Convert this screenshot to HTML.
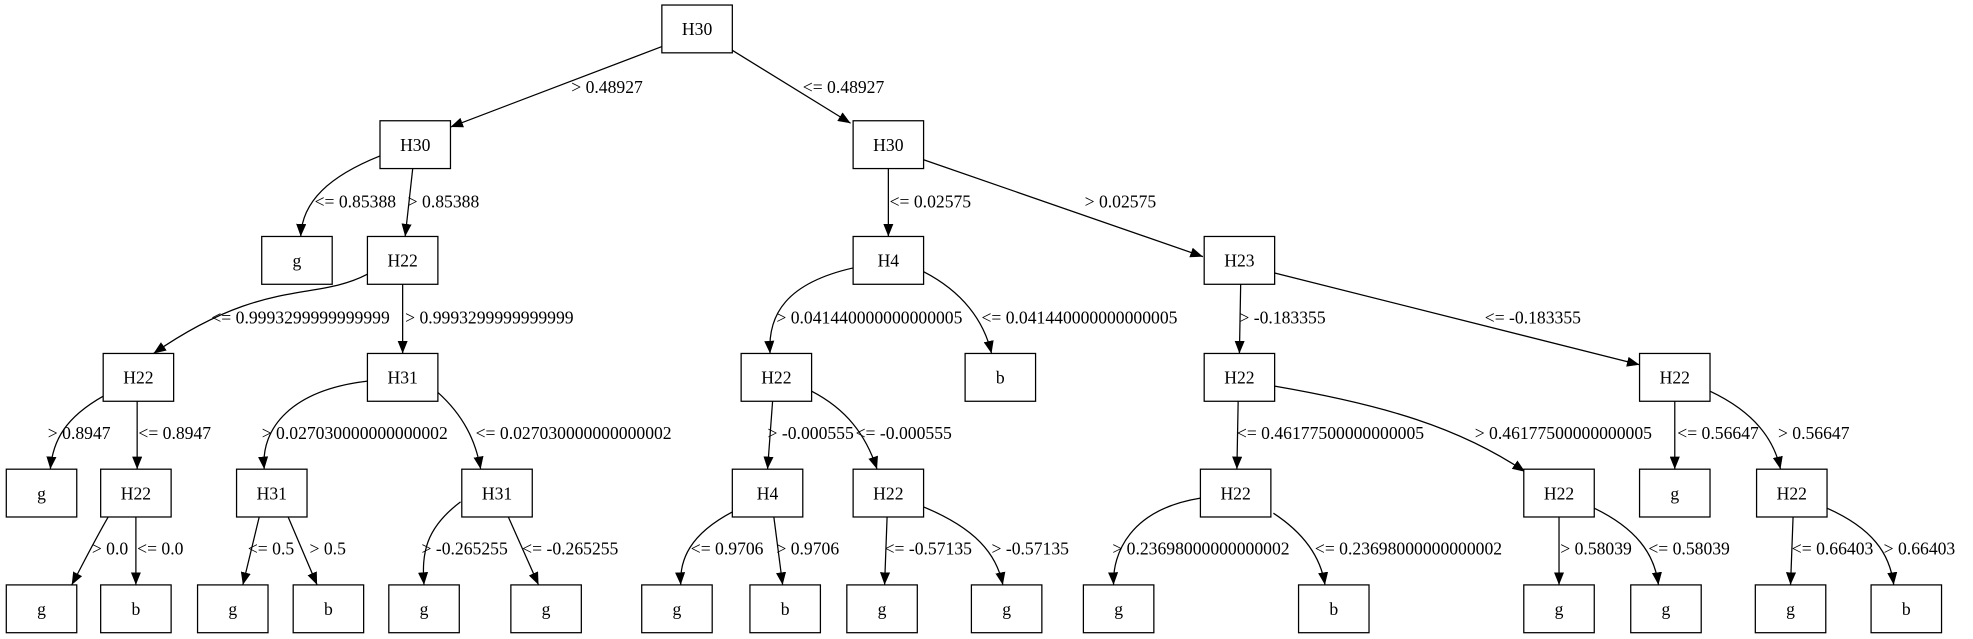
<!DOCTYPE html>
<html><head><meta charset="utf-8"><style>
html,body{margin:0;padding:0;background:#fff;}
svg{display:block;}
text{font-family:"Liberation Serif",serif;font-size:14px;fill:#000;}
</style></head><body>
<svg width="1973" height="639" viewBox="0 0 1568 508" preserveAspectRatio="none" xmlns="http://www.w3.org/2000/svg">
<defs><marker id="a" markerWidth="10" markerHeight="8" refX="10" refY="4" orient="auto" markerUnits="userSpaceOnUse"><path d="M0,0 L10,4 L0,8 z" fill="#000"/></marker></defs>
<g fill="none" stroke="#000" stroke-width="1" marker-end="url(#a)">
<path d="M526,37 L358,101"/>
<path d="M582,40 L676,98"/>
<path d="M302,124 C262,140 240,160 239,188"/>
<path d="M328,134 L322,188"/>
<path d="M706,134 L706,188"/>
<path d="M734,127 L956,204"/>
<path d="M292,218 C250,240 210,220 122,281"/>
<path d="M320,226 L320,281"/>
<path d="M678,213 C625,225 610,250 612,281"/>
<path d="M734,216 C765,232 782,255 788,281"/>
<path d="M986,226 L985,281"/>
<path d="M1013,217 L1303,290"/>
<path d="M82,315 C52,332 42,350 40,373"/>
<path d="M109,319 L109,373"/>
<path d="M292,303 C232,310 207,340 210,373"/>
<path d="M348,312 C368,330 378,350 382,373"/>
<path d="M614,319 L610,373"/>
<path d="M645,311 C672,325 688,345 697,373"/>
<path d="M984,319 L983,373"/>
<path d="M1013,307 C1100,322 1160,340 1212,375"/>
<path d="M1331,319 L1331,373"/>
<path d="M1359,311 C1395,328 1410,350 1415,373"/>
<path d="M86,411 C75,430 65,450 57,465"/>
<path d="M108,411 L108,465"/>
<path d="M206,411 L193,465"/>
<path d="M229,411 L252,465"/>
<path d="M366,399 C338,420 335,440 337,465"/>
<path d="M404,411 L428,465"/>
<path d="M582,407 C548,425 540,445 541,465"/>
<path d="M615,411 L622,465"/>
<path d="M705,411 L703,465"/>
<path d="M734,403 C775,420 792,440 797,465"/>
<path d="M954,396 C898,405 884,440 885,465"/>
<path d="M1012,408 C1038,425 1050,445 1053,465"/>
<path d="M1239,411 L1239,465"/>
<path d="M1267,404 C1300,420 1315,440 1318,465"/>
<path d="M1425,411 L1423,465"/>
<path d="M1452,404 C1488,420 1502,440 1505,465"/>
</g>
<g fill="#fff" stroke="#000" stroke-width="1">
<rect x="526" y="4" width="56" height="38"/>
<rect x="302" y="96" width="56" height="38"/><rect x="678" y="96" width="56" height="38"/>
<rect x="208" y="188" width="56" height="38"/><rect x="292" y="188" width="56" height="38"/><rect x="678" y="188" width="56" height="38"/><rect x="957" y="188" width="56" height="38"/>
<rect x="82" y="281" width="56" height="38"/><rect x="292" y="281" width="56" height="38"/><rect x="589" y="281" width="56" height="38"/><rect x="767" y="281" width="56" height="38"/><rect x="957" y="281" width="56" height="38"/><rect x="1303" y="281" width="56" height="38"/>
<rect x="5" y="373" width="56" height="38"/><rect x="80" y="373" width="56" height="38"/><rect x="188" y="373" width="56" height="38"/><rect x="367" y="373" width="56" height="38"/><rect x="582" y="373" width="56" height="38"/><rect x="678" y="373" width="56" height="38"/><rect x="954" y="373" width="56" height="38"/><rect x="1211" y="373" width="56" height="38"/><rect x="1303" y="373" width="56" height="38"/><rect x="1396" y="373" width="56" height="38"/>
<rect x="5" y="465" width="56" height="38"/><rect x="80" y="465" width="56" height="38"/><rect x="157" y="465" width="56" height="38"/><rect x="233" y="465" width="56" height="38"/><rect x="309" y="465" width="56" height="38"/><rect x="406" y="465" width="56" height="38"/><rect x="510" y="465" width="56" height="38"/><rect x="596" y="465" width="56" height="38"/><rect x="673" y="465" width="56" height="38"/><rect x="772" y="465" width="56" height="38"/><rect x="861" y="465" width="56" height="38"/><rect x="1032" y="465" width="56" height="38"/><rect x="1211" y="465" width="56" height="38"/><rect x="1296" y="465" width="56" height="38"/><rect x="1395" y="465" width="56" height="38"/><rect x="1487" y="465" width="56" height="38"/>
</g>
<g text-anchor="middle">
<text x="554" y="28">H30</text>
<text x="330" y="120">H30</text><text x="706" y="120">H30</text>
<text x="236" y="212">g</text><text x="320" y="212">H22</text><text x="706" y="212">H4</text><text x="985" y="212">H23</text>
<text x="110" y="305">H22</text><text x="320" y="305">H31</text><text x="617" y="305">H22</text><text x="795" y="305">b</text><text x="985" y="305">H22</text><text x="1331" y="305">H22</text>
<text x="33" y="397">g</text><text x="108" y="397">H22</text><text x="216" y="397">H31</text><text x="395" y="397">H31</text><text x="610" y="397">H4</text><text x="706" y="397">H22</text><text x="982" y="397">H22</text><text x="1239" y="397">H22</text><text x="1331" y="397">g</text><text x="1424" y="397">H22</text>
<text x="33" y="489">g</text><text x="108" y="489">b</text><text x="185" y="489">g</text><text x="261" y="489">b</text><text x="337" y="489">g</text><text x="434" y="489">g</text><text x="538" y="489">g</text><text x="624" y="489">b</text><text x="701" y="489">g</text><text x="800" y="489">g</text><text x="889" y="489">g</text><text x="1060" y="489">b</text><text x="1239" y="489">g</text><text x="1324" y="489">g</text><text x="1423" y="489">g</text><text x="1515" y="489">b</text>
</g>
<g>
<text x="454" y="74">&gt; 0.48927</text>
<text x="638" y="74">&lt;= 0.48927</text>
<text x="250" y="165">&lt;= 0.85388</text>
<text x="324" y="165">&gt; 0.85388</text>
<text x="707" y="165">&lt;= 0.02575</text>
<text x="862" y="165">&gt; 0.02575</text>
<text x="168" y="257">&lt;= 0.9993299999999999</text>
<text x="322" y="257">&gt; 0.9993299999999999</text>
<text x="617" y="257">&gt; 0.041440000000000005</text>
<text x="780" y="257">&lt;= 0.041440000000000005</text>
<text x="985" y="257">&gt; -0.183355</text>
<text x="1180" y="257">&lt;= -0.183355</text>
<text x="38" y="349">&gt; 0.8947</text>
<text x="110" y="349">&lt;= 0.8947</text>
<text x="208" y="349">&gt; 0.027030000000000002</text>
<text x="378" y="349">&lt;= 0.027030000000000002</text>
<text x="610" y="349">&gt; -0.000555</text>
<text x="680" y="349">&lt;= -0.000555</text>
<text x="983" y="349">&lt;= 0.46177500000000005</text>
<text x="1172" y="349">&gt; 0.46177500000000005</text>
<text x="1333" y="349">&lt;= 0.56647</text>
<text x="1413" y="349">&gt; 0.56647</text>
<text x="73" y="441">&gt; 0.0</text>
<text x="109" y="441">&lt;= 0.0</text>
<text x="197" y="441">&lt;= 0.5</text>
<text x="246" y="441">&gt; 0.5</text>
<text x="335" y="441">&gt; -0.265255</text>
<text x="415" y="441">&lt;= -0.265255</text>
<text x="549" y="441">&lt;= 0.9706</text>
<text x="617" y="441">&gt; 0.9706</text>
<text x="703" y="441">&lt;= -0.57135</text>
<text x="788" y="441">&gt; -0.57135</text>
<text x="884" y="441">&gt; 0.23698000000000002</text>
<text x="1045" y="441">&lt;= 0.23698000000000002</text>
<text x="1240" y="441">&gt; 0.58039</text>
<text x="1310" y="441">&lt;= 0.58039</text>
<text x="1424" y="441">&lt;= 0.66403</text>
<text x="1497" y="441">&gt; 0.66403</text>
</g>
</svg>
</body></html>
